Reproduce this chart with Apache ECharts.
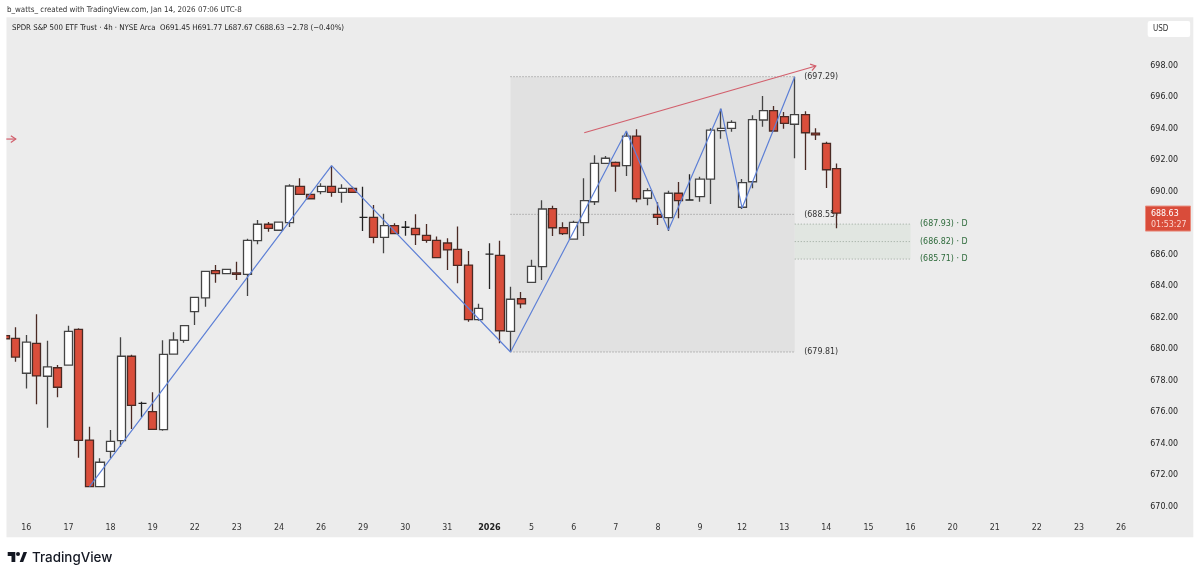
<!DOCTYPE html>
<html>
<head>
<meta charset="utf-8">
<title>SPY 4h</title>
<script src="https://cdn.jsdelivr.net/npm/echarts@6/dist/echarts.min.js"></script>
<style>
html,body{margin:0;padding:0;background:#fff;}
#main{width:1200px;height:577px;}
</style>
</head>
<body>
<div id="main"></div>
<script>
// date ticks, one every 4 bars
var dayLabels=["16","17","18","19","22","23","24","26","29","30","31","2026","5","6","7","8","9","12","13","14","15","16","20","21","22","23","26"];
// ohlc, first bar is cut by the left edge of the pane
var opens=[680.85,680.68,678.46,680.36,678.27,678.81,678.98,681.25,674.22,671.26,673.5,674.18,679.54,676.55,676.02,674.88,679.68,680.55,682.37,683.24,684.97,684.78,684.83,684.74,686.88,687.92,687.54,688.02,690.33,689.82,689.99,690.33,689.95,690.2,688.36,688.36,687.09,687.83,687.73,687.66,687.22,686.9,686.73,686.33,685.33,681.86,686.03,685.95,681.12,683.19,684.23,685.23,688.91,687.7,686.98,688.02,689.35,691.79,691.85,691.64,693.52,689.57,688.55,688.34,689.89,689.46,689.67,690.79,693.86,694.01,689.0,690.62,694.54,695.13,694.75,694.27,694.88,693.71,693.06,691.45];
var closes=[680.65,679.49,680.44,678.29,678.86,677.57,681.12,674.2,671.26,672.81,674.14,679.54,676.42,676.55,674.9,679.66,680.57,681.48,683.28,684.93,684.78,685.06,684.74,686.9,687.92,687.66,688.05,690.35,689.82,689.54,690.33,689.95,690.2,689.95,688.36,687.09,687.83,687.32,687.73,687.26,686.9,685.8,686.29,685.31,681.86,682.58,686.03,681.16,683.16,682.86,685.25,688.89,687.7,687.32,688.04,689.42,691.79,692.11,691.62,693.52,689.54,690.05,688.36,689.89,689.42,689.46,690.79,693.9,694.01,694.39,690.56,694.56,695.13,693.84,694.33,694.88,693.73,693.59,691.38,688.63];
var lows=[680.6,679.19,677.5,676.49,675.0,676.93,678.98,673.1,671.22,671.26,673.06,673.8,674.92,675.66,674.86,674.81,679.66,680.4,681.52,682.69,684.21,684.75,684.38,683.37,686.65,687.45,687.5,687.75,689.82,689.5,689.82,689.67,689.29,689.95,687.49,686.71,686.08,687.3,687.19,686.6,686.75,685.76,685.02,684.17,681.73,681.8,683.81,680.36,679.81,682.58,684.2,684.38,687.17,687.24,686.95,687.17,689.14,691.75,689.99,690.98,689.31,689.12,687.87,687.49,688.3,689.46,689.35,689.21,693.35,693.8,688.89,690.2,694.11,693.8,693.99,692.11,691.37,693.27,690.22,687.67];
var highs=[680.9,681.38,680.89,682.2,680.53,678.98,681.48,681.31,675.07,673.06,674.86,680.74,679.64,676.65,677.25,680.55,681.06,681.5,683.32,684.95,685.33,685.1,685.54,687.0,688.19,688.06,688.1,690.46,690.84,689.85,690.52,691.64,690.46,690.3,690.3,689.14,688.59,687.98,688.13,688.55,687.94,687.15,687.03,687.77,686.22,682.88,686.71,686.88,683.96,683.62,685.67,689.44,689.1,688.04,688.15,690.84,692.3,692.25,691.9,693.8,693.95,690.2,689.31,690.05,690.6,691.09,690.94,694.01,695.26,694.52,690.79,694.84,696.06,695.43,695.05,697.29,695.09,694.01,693.16,691.77];
// zigzag pivots
var zigzagBars=[8,31,48,59,63,68,70,75];
var zigzagPrices=[671.26,691.64,679.81,693.84,687.56,695.26,688.95,697.29];
// range box levels, drawn from bar 48 to bar 75
var boxBars=[48,75];
var boxLevels=[697.29,688.55,679.81];
// daily levels, drawn from bar 75 to bar 86
var zoneBars=[75,86];
var zoneLevels=[687.93,686.82,685.71];
// drawn arrows
var trendBars=[55,77];
var trendPrices=[693.73,697.97];
var rayBars=[0,1];
var rayPrices=[693.33,693.33];
var lastClose=688.63;
var priceTicks=[670,672,674,676,678,680,682,684,686,690,692,694,696,698];

var barCount=114;
var categories=[];
for(var k=0;k<barCount;k++){
    // labelled bars are 2,6,10...
    categories.push((k-2)%4===0&&k>=2?(dayLabels[(k-2)/4]||''):'');
}
var ohlc=opens.map(function(o,i){return [o,closes[i],lows[i],highs[i]];});
var zigzag=zigzagBars.map(function(b,i){return [b,zigzagPrices[i]];});

var mainFont='"DejaVu Sans Condensed","DejaVu Sans",sans-serif';

function rangeItem(params,api){
    var a=api.coord([api.value(0),api.value(2)]);
    var b=api.coord([api.value(1),api.value(3)]);
    return {type:'rect',shape:{x:a[0],y:a[1],width:b[0]-a[0],height:b[1]-a[1]},style:{fill:api.value(4)===1?'#e1e6e1':'#e1e1e1'}};
}
function levelItem(params,api){
    var a=api.coord([api.value(0),api.value(2)]);
    var b=api.coord([api.value(1),api.value(2)]);
    var green=api.value(3)===1;
    return {type:'group',children:[
        {type:'line',shape:{x1:a[0],y1:a[1],x2:b[0],y2:b[1]},style:{stroke:green?'#9aa69c':'#8a8a8a',lineWidth:1,lineDash:[1,2]}},
        {type:'text',x:b[0]+9.5,y:b[1],style:{
            text:'('+api.value(2).toFixed(2)+')'+(green?' · D':''),
            fill:green?'#2f6b3c':'#333',font:'8.8px '+mainFont,verticalAlign:'middle',align:'left'}}
    ]};
}
function arrowItem(params,api){
    var a=api.coord([api.value(0),api.value(1)]);
    var b=api.coord([api.value(2),api.value(3)]);
    var ang=Math.atan2(b[1]-a[1],b[0]-a[0]);
    var arm=6;
    var p1=[b[0]-arm*Math.cos(ang-0.6),b[1]-arm*Math.sin(ang-0.6)];
    var p2=[b[0]-arm*Math.cos(ang+0.6),b[1]-arm*Math.sin(ang+0.6)];
    return {type:'group',children:[
        {type:'line',shape:{x1:a[0],y1:a[1],x2:b[0],y2:b[1]},style:{stroke:'#d25f6c',lineWidth:1.2}},
        {type:'polyline',shape:{points:[p1,b,p2]},style:{stroke:'#d25f6c',lineWidth:1.2,fill:'none'}}
    ]};
}
function tagItem(params,api){
    var p=api.coord([0,api.value(0)]);
    return {type:'group',children:[
        {type:'rect',shape:{x:1145.5,y:p[1]-7,width:45,height:25},style:{fill:'#d94c3a',stroke:'#e98a7c',lineWidth:1}},
        {type:'text',x:1151,y:p[1]+0.5,style:{text:api.value(0).toFixed(2),fill:'#fff',font:'8.8px '+mainFont,verticalAlign:'middle'}},
        {type:'text',x:1151,y:p[1]+11.5,style:{text:'01:53:27',fill:'#fbd5cf',font:'8.8px '+mainFont,verticalAlign:'middle'}}
    ]};
}

var chart=echarts.init(document.getElementById('main'));
var option={
    backgroundColor:'#fff',
    animation:false,
    grid:{left:-1.24,top:2.5,width:1203.84,height:535.5},
    xAxis:{
        type:'category',
        data:categories,
        boundaryGap:true,
        axisLine:{show:false},
        axisTick:{show:false},
        splitLine:{show:false},
        axisLabel:{
            show:true,inside:true,interval:0,margin:6,hideOverlap:false,
            color:'#333',fontFamily:mainFont,fontSize:8.8,
            formatter:function(v){return v==='2026'?'{b|2026}':v;},
            rich:{b:{fontWeight:'bold',fontSize:9,color:'#222',fontFamily:mainFont}}
        }
    },
    yAxis:{
        type:'value',
        position:'right',
        min:668,
        max:702,
        interval:2,
        axisLine:{show:false},
        axisTick:{show:false},
        splitLine:{show:false},
        axisLabel:{
            inside:true,margin:22,color:'#222',fontFamily:mainFont,fontSize:8.8,
            formatter:function(v){return priceTicks.indexOf(v)>=0?v.toFixed(2):'';}
        }
    },
    series:[
        {type:'custom',z:1,silent:true,clip:false,renderItem:rangeItem,encode:{x:[0,1],y:[2,3]},
            data:[[boxBars[0],boxBars[1],boxLevels[0],boxLevels[2],0],
                  [zoneBars[0],zoneBars[1],zoneLevels[0],zoneLevels[2],1]]},
        {type:'custom',z:1.5,silent:true,clip:false,renderItem:levelItem,encode:{x:[0,1],y:2},
            data:boxLevels.map(function(p){return [boxBars[0],boxBars[1],p,0];})
                .concat(zoneLevels.map(function(p){return [zoneBars[0],zoneBars[1],p,1];}))},
        {type:'candlestick',z:3,barWidth:8.6,data:ohlc,
            itemStyle:{color:'#ffffff',color0:'#da4e3b',borderColor:'#444444',borderColor0:'#4a2a24',borderColorDoji:'#222222',borderWidth:1.3}},
        {type:'line',z:4,silent:true,data:zigzag,symbol:'none',lineStyle:{color:'#5e80d6',width:1.2}},
        {type:'custom',z:5,silent:true,clip:false,renderItem:arrowItem,encode:{x:[0,2],y:[1,3]},
            data:[[trendBars[0],trendPrices[0],trendBars[1],trendPrices[1]],
                  [rayBars[0],rayPrices[0],rayBars[1],rayPrices[1]]]},
        {type:'custom',z:6,silent:true,clip:false,renderItem:tagItem,encode:{y:0},data:[[lastClose]]}
    ],
    graphic:{elements:[
        {type:'rect',z:-1,silent:true,shape:{x:6.3,y:17.3,width:1187,height:520},style:{fill:'#ececec'}},
        {type:'rect',z:50,silent:true,shape:{x:0,y:17,width:6.3,height:521},style:{fill:'#ffffff'}},
        {type:'text',z:60,x:7,y:10,style:{text:'b_watts_ created with TradingView.com, Jan 14, 2026 07:06 UTC-8',fill:'#333',font:'7.9px '+mainFont,verticalAlign:'middle'}},
        {type:'text',z:60,x:12,y:27.5,style:{text:'SPDR S&P 500 ETF Trust · 4h · NYSE Arca  O691.45 H691.77 L687.67 C688.63 −2.78 (−0.40%)',fill:'#222',font:'7.8px '+mainFont,verticalAlign:'middle'}},
        {type:'rect',z:60,shape:{x:1147.7,y:21,width:42.5,height:16,r:2},style:{fill:'#ffffff'}},
        {type:'text',z:61,x:1153,y:29,style:{text:'USD',fill:'#333',font:'8px '+mainFont,verticalAlign:'middle'}},
        {type:'polygon',z:60,shape:{points:[[7.7,552],[15.3,552],[15.3,562],[11.5,562],[11.5,556],[7.7,556]]},style:{fill:'#131722'}},
        {type:'polygon',z:60,shape:{points:[[19.7,562],[23.5,552],[27,552],[23.2,562]]},style:{fill:'#131722'}},
        {type:'circle',z:60,shape:{cx:18,cy:554,r:2},style:{fill:'#131722'}},
        {type:'text',z:60,x:32,y:557.5,style:{text:'TradingView',fill:'#131722',font:'500 13.4px Inter,sans-serif',verticalAlign:'middle'}}
    ]}
};
chart.setOption(option);
</script>
</body>
</html>
